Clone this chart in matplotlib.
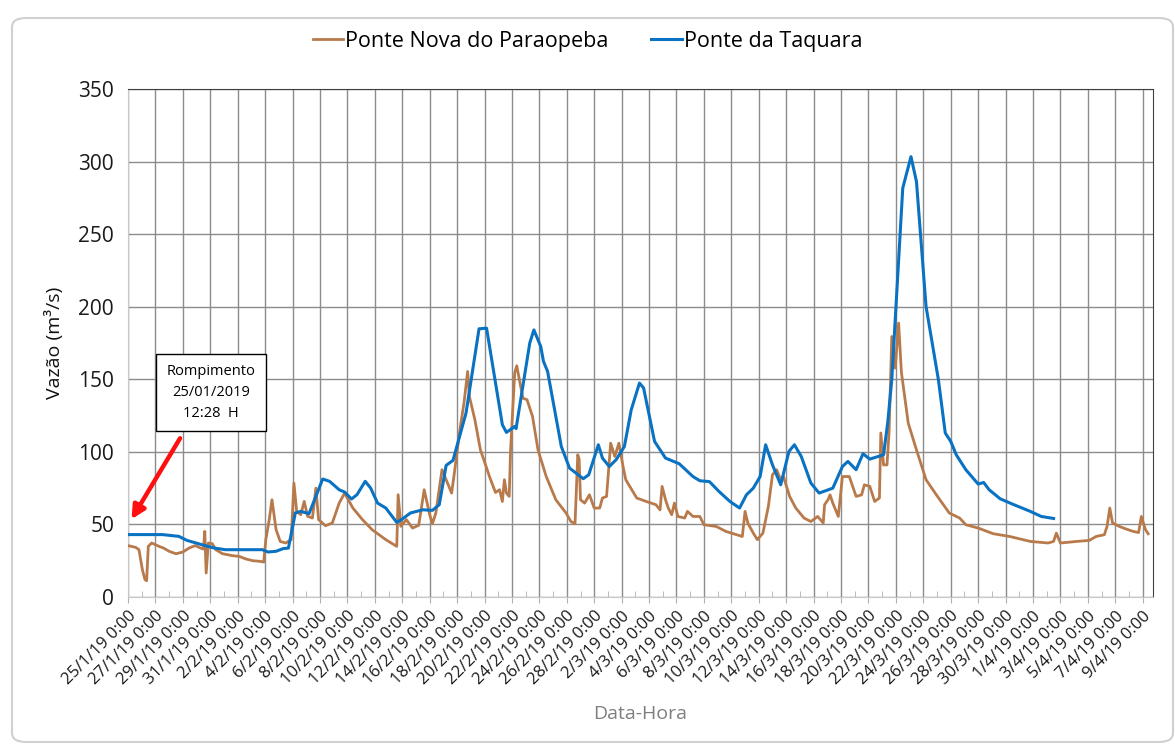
import matplotlib
matplotlib.use("Agg")
import matplotlib.pyplot as plt
import matplotlib.dates as mdates
from matplotlib.patches import FancyBboxPatch
import numpy as np
import pandas as pd

# ---------------- data ----------------
start_date = "2019-01-25"
end_date = "2019-04-09"

# Ponte Nova do Paraopeba : days since 25/1/19 0:00, flow (m3/s)
pn_days = [0, 0.56, 0.8, 1.05, 1.24, 1.36, 1.48, 1.73, 2.0, 2.26, 2.6, 3.0, 3.5, 4.0, 4.45, 4.9,
           5.3, 5.5, 5.6, 5.7, 5.86, 6.15, 6.4, 6.9, 7.6, 8.1, 8.6, 9.1, 9.6, 9.9,
           10.05, 10.3, 10.5, 10.8, 11.1, 11.5, 11.9, 12.1, 12.3, 12.6, 12.85, 13.1, 13.45, 13.7, 13.9,
           14.4, 14.9, 15.4, 15.8, 16.4, 17.1, 17.8, 18.8, 19.4, 19.6, 19.7, 19.9, 20.3, 20.75, 21.2,
           21.6, 22.0, 22.2, 22.45, 22.9, 23.3, 23.6, 23.8, 24.2, 24.5, 24.77, 24.9, 25.3, 25.7,
           26.4, 26.8, 27.1, 27.3, 27.45, 27.6, 27.8, 27.9, 28.2, 28.35, 28.5, 28.8, 29.1, 29.5, 29.9,
           30.5, 31.2, 31.95, 32.3, 32.6, 32.8, 32.9, 33.0, 33.3, 33.65, 34.0, 34.4, 34.6, 34.9,
           35.2, 35.5, 35.8, 36.1, 36.3, 37.1, 37.8, 38.5, 38.8, 38.95, 39.2, 39.4, 39.65, 39.85,
           40.1, 40.6, 40.8, 41.2, 41.7, 42.0, 42.9, 43.6, 44.4, 44.8, 45.0, 45.2, 45.6, 45.9,
           46.3, 46.7, 47.0, 47.3, 47.6, 47.8, 48.25, 48.7, 49.3, 49.8, 50.3, 50.7, 50.8, 51.05,
           51.2, 51.4, 51.8, 52.1, 52.6, 53.1, 53.5, 53.7, 54.1, 54.45, 54.8, 54.9, 55.1, 55.35,
           55.5, 55.7, 55.95, 56.2, 56.4, 56.9, 57.5, 58.2, 58.95, 59.9, 60.65, 61.1, 62.0, 63.1,
           64.3, 65.8, 67.1, 67.5, 67.7, 68.0, 69.2, 70.1, 70.6, 71.2, 71.4, 71.6, 71.8, 72.3,
           72.8, 73.3, 73.7, 73.9, 74.2, 74.4]
pn_flow = [35.4, 34.2, 32.6, 18.8, 11.9, 11.2, 34.9, 37.2, 36.0, 34.9, 33.7, 31.5, 29.8, 31.0, 33.7, 35.4,
           33.7, 33.0, 45.2, 16.5, 37.2, 36.7, 32.6, 29.8, 28.5, 28.0, 26.2, 25.0, 24.6, 24.1,
           39.5, 53.3, 67.0, 46.4, 38.3, 37.2, 39.5, 78.5, 59.0, 56.7, 65.9, 55.6, 54.4, 75.0, 53.3,
           49.1, 51.0, 64.7, 71.6, 61.3, 53.3, 46.4, 39.5, 36.0, 34.9, 70.5, 48.7, 53.3, 47.5, 49.4,
           73.9, 56.7, 50.5, 57.9, 87.7, 78.5, 71.6, 85.4, 115.0, 133.6, 155.4, 138.0, 122.0, 101.4,
           82.0, 72.0, 73.9, 65.8, 80.8, 71.6, 69.3, 101.0, 154.3, 159.3, 152.0, 137.0, 135.9, 124.4, 101.4,
           83.0, 67.0, 57.8, 52.0, 50.5, 98.0, 95.0, 67.0, 64.7, 70.4, 61.3, 61.3, 68.2, 69.3,
           106.0, 96.8, 106.0, 90.0, 80.8, 68.2, 65.8, 63.6, 60.0, 76.2, 67.0, 61.3, 56.7, 64.7,
           55.5, 54.4, 59.0, 55.5, 55.5, 49.8, 48.6, 45.2, 42.9, 41.7, 59.0, 51.0, 44.0, 39.5,
           44.0, 62.4, 84.2, 87.7, 80.8, 83.0, 69.3, 61.3, 54.4, 52.0, 55.5, 51.0, 63.6, 67.0,
           70.4, 64.7, 55.5, 83.0, 83.0, 69.3, 70.4, 77.3, 76.2, 65.8, 68.2, 113.0, 91.0, 91.0,
           113.0, 179.5, 157.7, 188.7, 155.0, 119.8, 101.4, 80.8, 70.4, 57.8, 54.4, 49.8, 47.5, 43.6,
           41.7, 38.3, 37.2, 38.3, 44.0, 37.2, 38.3, 39.0, 41.7, 42.9, 48.6, 61.3, 51.0, 48.6,
           46.8, 45.2, 44.4, 55.5, 46.4, 43.6]

# Ponte da Taquara
pt_days = [0, 2.5, 3.7, 4.3, 5.4, 6.3, 7.1, 9.8, 10.2, 10.8, 11.3, 11.7, 12.2, 12.6, 13.2,
           14.2, 14.7, 15.4, 15.8, 16.3, 16.7, 17.3, 17.7, 18.2, 18.8, 19.6, 20.0, 20.6, 21.5,
           22.2, 22.7, 23.2, 23.7, 24.65, 25.6, 26.15, 27.3, 27.6, 28.2, 28.3, 29.3, 29.6, 30.1,
           30.3, 30.6, 31.2, 31.6, 32.2, 33.2, 33.6, 34.3, 34.6, 35.1, 35.6, 36.2, 36.7, 37.3,
           37.6, 38.4, 39.2, 40.2, 41.2, 41.7, 42.4, 43.1, 43.9, 44.6, 45.1, 45.6, 46.1, 46.5,
           47.0, 47.6, 48.2, 48.6, 49.1, 49.8, 50.4, 51.4, 52.1, 52.5, 53.1, 53.6, 54.1, 55.1,
           55.4, 55.7, 56.5, 57.1, 57.5, 58.2, 59.1, 59.6, 60.0, 60.4, 61.1, 62.0, 62.4, 62.8,
           63.6, 64.5, 65.8, 66.6, 67.5]
pt_flow = [43.0, 43.0, 41.8, 39.0, 36.0, 33.7, 32.6, 32.6, 31.0, 31.5, 33.3, 33.7, 57.9, 59.0, 57.4,
           81.3, 79.7, 73.9, 72.3, 67.5, 70.5, 79.7, 75.0, 64.7, 61.3, 51.4, 53.7, 57.9, 60.1,
           59.7, 63.6, 90.7, 94.1, 126.7, 184.8, 185.2, 118.7, 113.4, 117.5, 116.0, 175.0, 184.0, 172.6,
           162.3, 155.4, 124.4, 103.7, 88.8, 81.5, 84.2, 104.9, 95.7, 89.9, 94.6, 103.7, 129.0, 147.4,
           144.0, 107.2, 95.7, 91.8, 83.0, 80.1, 79.5, 72.7, 65.8, 61.3, 70.4, 75.0, 83.0, 104.9,
           91.0, 77.3, 100.3, 104.9, 96.8, 78.5, 71.6, 75.0, 89.9, 93.4, 87.7, 98.7, 95.0, 98.0,
           119.8, 149.7, 281.7, 303.4, 286.2, 200.1, 149.7, 113.0, 107.2, 98.0, 87.7, 77.8, 78.9, 73.9,
           67.7, 64.0, 59.0, 55.5, 54.1]

series_names = ["Ponte Nova do Paraopeba", "Ponte da Taquara"]
y_ticks = [0, 50, 100, 150, 200, 250, 300, 350]
annot_text = "Rompimento\n25/01/2019\n12:28  H"

# ---------------- plot ----------------
plt.rcParams['font.family'] = ['Open Sans', 'DejaVu Sans']

t0 = pd.Timestamp(start_date)
pn_t = [t0 + pd.Timedelta(days=d) for d in pn_days]
pt_t = [t0 + pd.Timedelta(days=d) for d in pt_days]

fig = plt.figure(figsize=(11.75, 7.45), dpi=100)
ax = fig.add_axes([128/1175, 1 - 597/745, (1153-128)/1175, (597-89)/745])

# outer rounded frame
frame = FancyBboxPatch((12/1175, 3/745), (1173-12)/1175, (727-3)/745,
                       boxstyle="round,pad=0,rounding_size=0.012",
                       transform=fig.transFigure, facecolor='white',
                       edgecolor='#d0d0d0', linewidth=1.5, zorder=-10)
fig.patches.append(frame)

brown = '#B87A4B'
blue = '#0A72C3'
ax.plot(pn_t, pn_flow, color=brown, lw=2.0, label=series_names[0], zorder=3)
ax.plot(pt_t, pt_flow, color=blue, lw=2.2, label=series_names[1], zorder=4)

ax.set_ylim(0, 350)
ax.set_yticks(y_ticks)
x0 = mdates.date2num(t0)
ax.set_xlim(x0, x0 + 74.75)

major = pd.date_range(start_date, end_date, freq='2D')
minor = pd.date_range(start_date, end_date, freq='1D')
ax.set_xticks(mdates.date2num(major))
ax.set_xticks(mdates.date2num(minor), minor=True)
ax.set_xticklabels([f"{d.day}/{d.month}/{d.strftime('%y')} 0:00" for d in major],
                   rotation=45, ha='right', rotation_mode='anchor', fontsize=12, color='#1a1a1a')
ax.tick_params(axis='x', which='major', length=4, color='#b0b0b0', pad=4)
ax.tick_params(axis='x', which='minor', length=4, direction='in', color='#b0b0b0')
ax.tick_params(axis='y', length=0, labelsize=15, pad=10, labelcolor='#1a1a1a')

ax.grid(True, which='major', color='#8c8c8c', lw=1.0)
ax.set_axisbelow(True)
for s in ['left', 'bottom']:
    ax.spines[s].set_color('#c8c8c8')
for s in ['top', 'right']:
    ax.spines[s].set_color('#404040')

ax.set_ylabel("Vazão (m³/s)", fontsize=14, labelpad=10, color='#111111')
ax.set_xlabel("Data-Hora", fontsize=14, color='#7f7f7f', labelpad=12)

leg = fig.legend(loc='upper center', bbox_to_anchor=(0.5, 0.985), ncol=2, frameon=False,
                 fontsize=15.5, handlelength=1.4, handletextpad=0.1, columnspacing=2.0)

# annotation
ax.annotate("", xy=(x0 + 0.15, 51.9), xytext=(x0 + 3.9, 111),
            arrowprops=dict(arrowstyle='-|>,head_length=0.8,head_width=0.4', color='#FF1010', lw=3.2),
            zorder=6)
ax.text(x0 + 6.05, 141, annot_text, ha='center', va='center', fontsize=10.5, linespacing=1.55,
        bbox=dict(boxstyle='square,pad=0.7', facecolor='white', edgecolor='black', lw=1.0), zorder=7)

fig.savefig("out.png", dpi=100)
